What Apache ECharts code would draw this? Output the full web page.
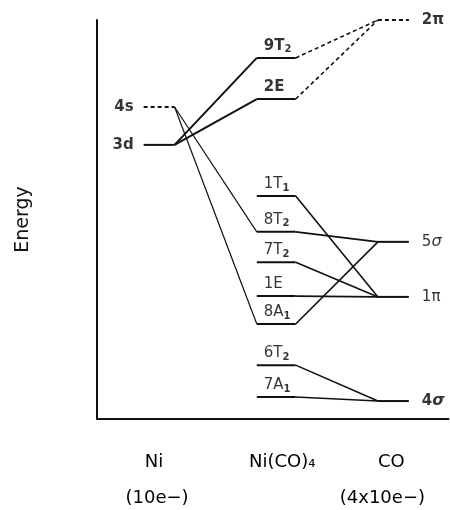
<!DOCTYPE html>
<html><head><meta charset="utf-8">
<script src="https://cdn.jsdelivr.net/npm/echarts@6/dist/echarts.min.js"></script>
<style>html,body{margin:0;padding:0;background:#fff}#c{width:450px;height:510px}</style>
</head><body><div id="c"></div>
<script>
// ---- data ----
const columns = ['Ni', 'Ni(CO)₄', 'CO'];
const columnSub = ['(10e−)', '', '(4x10e−)'];
const levelNames = ['4s', '3d', '9T2', '2E', '1T1', '8T2', '7T2', '1E', '8A1', '6T2', '7A1', '2π', '5σ', '1π', '4σ'];
const levelColumn = [0, 0, 1, 1, 1, 1, 1, 1, 1, 1, 1, 2, 2, 2, 2];
const levelEnergy = [78.2, 68.7, 90.5, 80.2, 55.9, 46.9, 39.3, 30.8, 23.8, 13.5, 5.5, 100, 44.4, 30.6, 4.5];
const dashedLevels = ['4s', '2π'];
const connFrom = ['3d', '3d', '4s', '4s', '9T2', '2E', '1T1', '8T2', '7T2', '1E', '8A1', '6T2', '7A1'];
const connTo = ['9T2', '2E', '8T2', '8A1', '2π', '2π', '1π', '5σ', '1π', '1π', '5σ', '4σ', '4σ'];
const dashedConns = ['2π'];

// ---- layout / style ----
const colX = [1, 2, 3];
const colHW = [0.132, 0.166, 0.132];
const FONT = 'DejaVu Sans';
const INK = '#000';
const boldLabels = ['4s', '3d', '9T2', '2E', '2π', '4σ'];

function richText(name) {
  let m = name.match(/^(\d+[TA])(\d)$/);
  if (m) return '{m|' + m[1] + '}{s|' + m[2] + '}';
  if (name.indexOf('σ') >= 0) return '{m|' + name.replace('σ', '') + '}{g|σ}';
  return '{m|' + name + '}';
}
function idx(n) { return levelNames.indexOf(n); }

const series = [];
levelNames.forEach((n, i) => {
  const c = levelColumn[i], x = colX[c], hw = colHW[c], e = levelEnergy[i];
  series.push({
    type: 'line', silent: true, symbol: 'none', animation: false,
    data: [[x - hw, e], [x + hw, e]],
    lineStyle: { color: '#111', width: 2, type: dashedLevels.includes(n) ? [4, 3] : 'solid' }
  });
});
connFrom.forEach((f, k) => {
  const a = idx(f), b = idx(connTo[k]);
  const ca = levelColumn[a], cb = levelColumn[b];
  const dashed = dashedConns.includes(connTo[k]);
  const w = f === '3d' ? 2 : (f === '4s' ? 1.2 : 1.6);
  series.push({
    type: 'line', silent: true, symbol: 'none', animation: false,
    data: [[colX[ca] + colHW[ca], levelEnergy[a]], [colX[cb] - colHW[cb], levelEnergy[b]]],
    lineStyle: { color: '#111', width: w, type: dashed ? [4, 3] : 'solid' }
  });
});

const labelData = levelNames.map((n, i) => {
  const c = levelColumn[i], x = colX[c], hw = colHW[c], e = levelEnergy[i];
  const bold = boldLabels.includes(n) ? 'bold' : 'normal';
  const rich = {
    m: { fontFamily: FONT, fontSize: 15, fontWeight: bold, color: INK, lineHeight: 18 },
    s: { fontFamily: FONT, fontSize: 10, fontWeight: 'bold', color: INK, lineHeight: 12, verticalAlign: 'bottom' },
    g: { fontFamily: FONT, fontSize: 16, fontStyle: 'italic', fontWeight: bold, color: INK, lineHeight: 18 }
  };
  const base = { show: true, color: INK, textBorderWidth: 0, formatter: richText(n), rich };
  if (c === 0) {
    return { value: [x - hw, e], label: Object.assign({ position: 'left', distance: 10 }, base) };
  } else if (c === 1) {
    return { value: [x - hw, e], label: Object.assign({ position: 'top', align: 'left', distance: 3, offset: [7, 0] }, base) };
  } else {
    return { value: [x + hw, e], label: Object.assign({ position: 'right', distance: 13 }, base) };
  }
});
series.push({ type: 'scatter', symbolSize: 0, silent: true, animation: false, data: labelData, z: 5,
  itemStyle: { color: INK } });

const chart = echarts.init(document.getElementById('c'), null, { renderer: 'canvas' });
chart.setOption({
  backgroundColor: '#fff',
  animation: false,
  grid: { left: 97, right: 0, top: 20, bottom: 91, containLabel: false },
  xAxis: {
    type: 'value', min: 0.47, max: 3.47,
    axisLine: { show: true, onZero: false, lineStyle: { color: '#111', width: 2 } },
    axisTick: { show: false }, splitLine: { show: false },
    axisLabel: {
      show: true, customValues: colX, margin: 25, verticalAlign: 'top', color: INK,
      formatter: (v) => {
        const i = colX.indexOf(v);
        let s = '{a' + i + '|' + columns[i] + '}';
        if (columnSub[i]) s += '\n{b' + i + '|' + columnSub[i] + '}';
        return s;
      },
      rich: {
        a0: { fontFamily: FONT, fontSize: 18, color: INK, lineHeight: 36, padding: [0, 10, 0, 0] },
        a1: { fontFamily: FONT, fontSize: 18, color: INK, lineHeight: 36, padding: [0, 0, 0, 12] },
        a2: { fontFamily: FONT, fontSize: 18, color: INK, lineHeight: 36, padding: [0, 4, 0, 0] },
        b0: { fontFamily: FONT, fontSize: 18, color: INK, lineHeight: 36, padding: [0, 4, 0, 0] },
        b2: { fontFamily: FONT, fontSize: 18, color: INK, lineHeight: 36, padding: [0, 22, 0, 0] }
      }
    }
  },
  yAxis: {
    type: 'value', min: 0, max: 100,
    name: 'Energy', nameLocation: 'middle', nameGap: 64,
    nameTextStyle: { fontFamily: FONT, fontSize: 19, color: '#111' },
    axisLine: { show: true, onZero: false, lineStyle: { color: '#111', width: 2 } },
    axisTick: { show: false }, axisLabel: { show: false }, splitLine: { show: false }
  },
  series
});
</script>
</body></html>
